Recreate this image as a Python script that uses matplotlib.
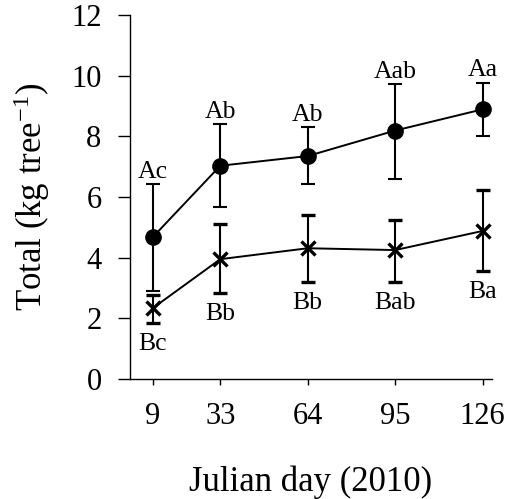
import matplotlib
matplotlib.use("Agg")
import matplotlib.pyplot as plt
import numpy as np

plt.rcParams['font.family'] = ['Liberation Serif', 'DejaVu Serif']
plt.rcParams['mathtext.fontset'] = 'custom'
plt.rcParams['mathtext.rm'] = 'Liberation Serif'
plt.rcParams['mathtext.it'] = 'Liberation Serif:italic'

days = [9, 33, 64, 95, 126]
tick_labels = ['9', '33', '64', '95', '126']

circ_mean = [4.67, 7.03, 7.35, 8.19, 8.89]
circ_err_up = [1.76, 1.38, 0.95, 1.53, 0.88]
circ_err_lo = [1.76, 1.35, 0.93, 1.59, 0.88]
circ_labels = ['Ac', 'Ab', 'Ab', 'Aab', 'Aa']

cross_mean = [2.33, 3.95, 4.31, 4.25, 4.88]
cross_err_up = [0.44, 1.15, 1.10, 0.99, 1.35]
cross_err_lo = [0.47, 1.10, 1.10, 1.04, 1.31]
cross_labels = ['Bc', 'Bb', 'Bb', 'Bab', 'Ba']

fig = plt.figure(figsize=(5.09, 4.99), dpi=100)
ax = fig.add_axes([0.2554, 0.2405, 0.966 - 0.2554, 0.970 - 0.2405])

ax.errorbar(days, circ_mean, yerr=[circ_err_lo, circ_err_up], color='black',
            marker='o', markersize=11, linewidth=1.4, elinewidth=1.5,
            capsize=5, capthick=1.5)
ax.errorbar(days, cross_mean, yerr=[cross_err_lo, cross_err_up], color='black',
            marker='x', markersize=10, markeredgewidth=2.4, linewidth=1.4,
            elinewidth=1.5, capsize=5, capthick=1.5)

for d, m, e, lab in zip(days, circ_mean, circ_err_up, circ_labels):
    ax.annotate(lab, (d, m + e), xytext=(0, 4.5), textcoords='offset points',
                ha='center', va='baseline', fontsize=18.5)
for d, m, e, lab in zip(days, cross_mean, cross_err_lo, cross_labels):
    ax.annotate(lab, (d, m - e), xytext=(0, -20), textcoords='offset points',
                ha='center', va='baseline', fontsize=18.5)

ax.set_xlim(1, 129.2)
ax.set_ylim(0, 12)
ax.set_xticks(days)
ax.set_xticklabels(tick_labels)
ax.set_yticks(np.arange(0, 13, 2))
ax.spines['top'].set_visible(False)
ax.spines['right'].set_visible(False)
ax.spines['left'].set_linewidth(1.0)
ax.spines['bottom'].set_linewidth(1.0)
ax.tick_params(axis='y', direction='out', length=8.5, width=1.0, pad=12, labelsize=22)
ax.tick_params(axis='x', direction='out', length=4.5, width=1.0, pad=12, labelsize=22)

ax.set_xlabel('Julian day (2010)', fontsize=25, labelpad=25)
ax.set_ylabel(r'Total (kg tree$^{\mathrm{-1}}$)', fontsize=25, labelpad=14)

fig.savefig('out.png', dpi=100)
